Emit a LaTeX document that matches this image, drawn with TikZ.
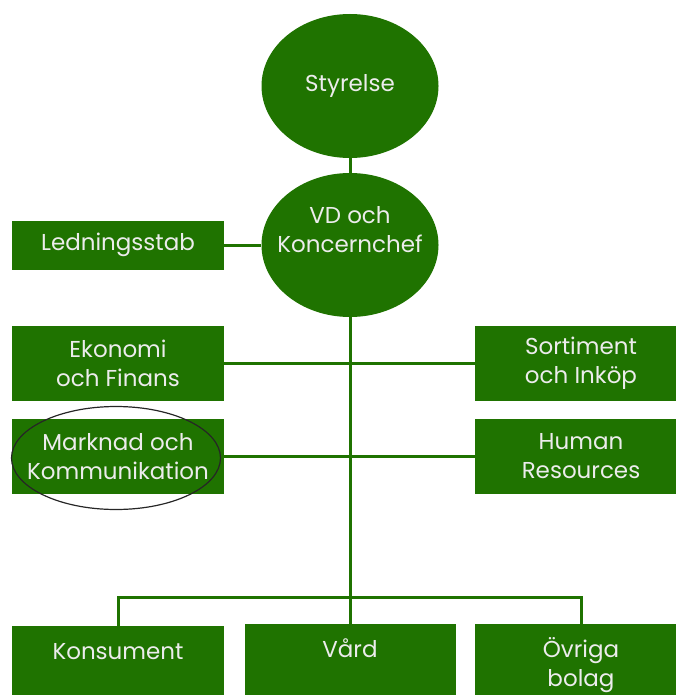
\documentclass[tikz,border=0pt]{standalone}
\usepackage{fontspec}
\setmainfont{Poppins}
\usetikzlibrary{shapes.geometric}
\definecolor{leaf}{RGB}{31,115,0}
\definecolor{paper}{RGB}{236,236,236}

\begin{document}
\begin{tikzpicture}[x=1pt, y=-1pt,
  every node/.style={fill=leaf, text=paper, font=\fontsize{23}{29}\selectfont, align=center, inner sep=0pt},
  boss/.style={ellipse, minimum width=177pt, minimum height=144pt},
  unit/.style={rectangle, minimum width=212pt, minimum height=75pt},
  branch/.style={rectangle, minimum width=212pt, anchor=north, text height=33pt, text depth=60pt},
  link/.style={draw=leaf, line width=3pt}]
\useasboundingbox (0,0) rectangle (675,695);

\node[boss] (sty) at (350,86) {Styrelse};
\node[boss, inner xsep=-12pt, text height=50pt, text depth=36pt] (vd) at (350,245) {VD och\\Koncernchef};
\node[unit, minimum height=49pt] (led) at (118,245) {Ledningsstab};
\node[unit] (eko) at (118,363.5) {Ekonomi\\och Finans};
\node[unit] (sort) at (581,363.5) {Sortiment\\och Inköp};
\node[unit] (mark) at (118,456.5) {Marknad och\\Kommunikation};
\node[unit] (hr) at (581,456.5) {Human\\Resources};
\node[branch] (kons) at (118,626) {Konsument};
\node[branch, minimum width=211pt] (vard) at (350,624) {Vård};
\node[branch, text height=62pt] (ovr) at (581,624) {Övriga\\bolag};
\node[ellipse, draw=black!85, fill=none, line width=1.2pt, minimum width=209pt, minimum height=103pt] (ring) at (116,458) {};

\coordinate (bar) at (350,597);
\draw[link] (sty) -- (vd);
\draw[link] (led.east) -- (vd.west);
\draw[link] (vd.south) -- (vard.north);
\draw[link] (eko) -- (sort);
\draw[link] (mark) -- (hr);
\draw[link] (kons.north) |- (bar) -| (ovr.north);

\end{tikzpicture}
\end{document}
